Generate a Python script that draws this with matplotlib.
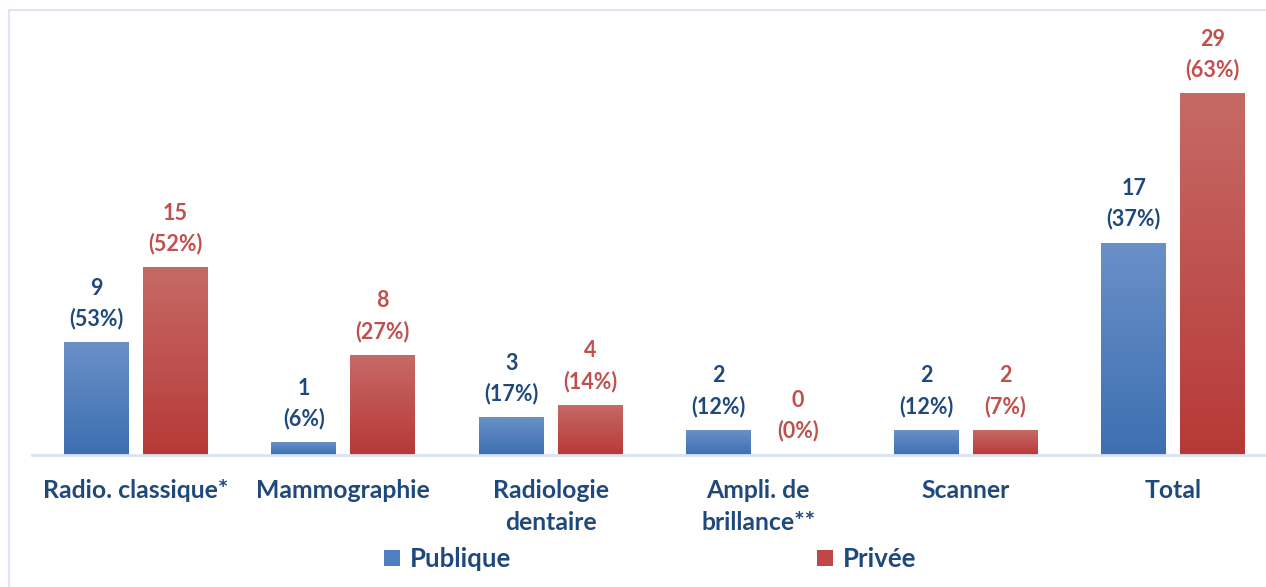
import numpy as np
import matplotlib
matplotlib.use("Agg")
import matplotlib.pyplot as plt
from matplotlib.patches import Patch
from matplotlib.colors import LinearSegmentedColormap
from matplotlib.lines import Line2D

plt.rcParams['font.family'] = ['Lato', 'DejaVu Sans']

categories = ["Radio. classique*", "Mammographie", "Radiologie\ndentaire",
              "Ampli. de\nbrillance**", "Scanner", "Total"]
publique = [9, 1, 3, 2, 2, 17]
publique_pct = [53, 6, 17, 12, 12, 37]
privee = [15, 8, 4, 0, 2, 29]
privee_pct = [52, 27, 14, 0, 7, 63]

navy = "#1f497d"
red_txt = "#c0504d"
blue_grad = LinearSegmentedColormap.from_list("b", ["#3d6fb1", "#6a90c8"])
red_grad = LinearSegmentedColormap.from_list("r", ["#b73937", "#c66a66"])

W, H = 1266, 587
fig = plt.figure(figsize=(W / 100, H / 100), dpi=100)

# chart frame (light border, cropped right / bottom)
fig.add_artist(Line2D([9 / W, 1], [1 - 10 / H, 1 - 10 / H], color="#dbe5f4", lw=1.5))
fig.add_artist(Line2D([9 / W, 9 / W], [0, 1 - 10 / H], color="#dbe5f4", lw=1.5))

left_px, base_px, top_px = 32, 455, 31
ax = fig.add_axes([left_px / W, (H - base_px) / H, (W - left_px) / W, (base_px - top_px) / H])
group_px = 207.5

x = np.arange(len(categories))
bw = 0.313
off = 0.19
bars_pub = ax.bar(x - off, publique, bw, color="none")
bars_pri = ax.bar(x + off, privee, bw, color="none")

# vertical gradient fill for each bar
grad = np.linspace(0, 1, 256).reshape(-1, 1)
for bars, cmap in ((bars_pub, blue_grad), (bars_pri, red_grad)):
    for b in bars:
        h = b.get_height()
        if h <= 0:
            continue
        x0 = b.get_x()
        ax.imshow(grad, cmap=cmap, origin="lower", aspect="auto",
                  extent=[x0, x0 + b.get_width(), 0, h], zorder=2)

ax.set_xlim(-0.5, -0.5 + (W - left_px) / group_px)
ax.set_ylim(0, (base_px - top_px) / 12.47)

for xi, v, p in zip(x, publique, publique_pct):
    ax.annotate(f"{v}\n({p}%)", (xi - off, v), xytext=(0, 9.5), textcoords="offset points",
                ha="center", va="bottom", fontsize=15.5, fontweight="bold", color=navy,
                linespacing=1.5)
for xi, v, p in zip(x, privee, privee_pct):
    ax.annotate(f"{v}\n({p}%)", (xi + off, v), xytext=(0, 9.5), textcoords="offset points",
                ha="center", va="bottom", fontsize=15.5, fontweight="bold", color=red_txt,
                linespacing=1.5)

ax.set_xticks(x)
ax.set_xticklabels(categories, fontsize=17.8, fontweight="bold", color=navy, linespacing=1.5)
ax.tick_params(axis="x", length=0, pad=17)
ax.set_yticks([])
for s in ("top", "right", "left"):
    ax.spines[s].set_visible(False)
ax.spines["bottom"].set_color("#d9e3f1")
ax.spines["bottom"].set_linewidth(2)

handles = [Patch(facecolor="#4f7fc0", label="Publique"),
           Patch(facecolor="#bf4745", label="Privée")]
leg = fig.legend(handles=handles, loc="center", bbox_to_anchor=(650 / W, 1 - 559 / H),
                 ncol=2, frameon=False, handlelength=0.62, handleheight=0.62,
                 handletextpad=0.4, columnspacing=11.9,
                 prop={"weight": "bold", "size": 18.5})
for t in leg.get_texts():
    t.set_color(navy)

fig.savefig("out.png", dpi=100)
